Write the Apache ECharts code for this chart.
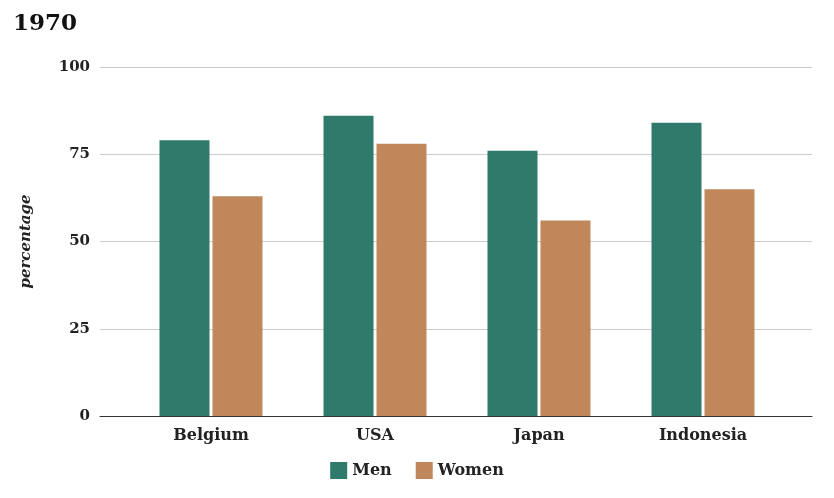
<!DOCTYPE html><html><head><meta charset="utf-8"><script src="https://cdn.jsdelivr.net/npm/echarts@6/dist/echarts.min.js"></script></head><body style="margin:0"><div id="c" style="width:834px;height:498px"></div><script>
const categories=["Belgium","USA","Japan","Indonesia"];
const men=[79,86,76,84];
const women=[63,78,56,65];
const yTicks=[0,25,50,75,100];
const F="DejaVu Serif";
const ch=echarts.init(document.getElementById('c'));
ch.setOption({
title:{text:"1970",left:8,top:8,textStyle:{fontFamily:F,fontWeight:"bold",fontSize:23,color:"#111"}},
legend:{bottom:14,left:"center",itemWidth:17,itemHeight:17,itemGap:24,icon:"rect",textStyle:{fontFamily:F,fontWeight:"bold",fontSize:16,color:"#222"},data:["Men","Women"]},
grid:[{left:129,right:49,top:67,bottom:82},{left:100,right:22,top:67,bottom:82}],
xAxis:[
{gridIndex:0,type:"category",data:categories,axisTick:{show:false},axisLine:{show:false},axisLabel:{fontFamily:F,fontWeight:"bold",fontSize:16,color:"#222",margin:12}},
{gridIndex:1,type:"value",min:0,max:1,show:true,axisLabel:{show:false},axisTick:{show:false},splitLine:{show:false},axisLine:{onZero:false,lineStyle:{color:"#333"}}}],
yAxis:[
{gridIndex:0,type:"value",min:0,max:100,show:false},
{gridIndex:1,type:"value",min:0,max:100,interval:25,axisLine:{show:false},axisTick:{show:false},name:"percentage",nameLocation:"middle",nameGap:66,nameTextStyle:{fontFamily:F,fontWeight:"bold",fontStyle:"italic",fontSize:15,color:"#222"},axisLabel:{fontFamily:F,fontWeight:"bold",fontSize:15,color:"#222",margin:10,formatter:v=>yTicks.includes(v)?v:""},splitLine:{lineStyle:{color:"#ccc"}}}],
series:[
{name:"Men",type:"bar",xAxisIndex:0,yAxisIndex:0,data:men,barWidth:50,barGap:"6%",itemStyle:{color:"#2f7a6a"}},
{name:"Women",type:"bar",xAxisIndex:0,yAxisIndex:0,data:women,barWidth:50,itemStyle:{color:"#c0875a"}}]
});
</script></body></html>
